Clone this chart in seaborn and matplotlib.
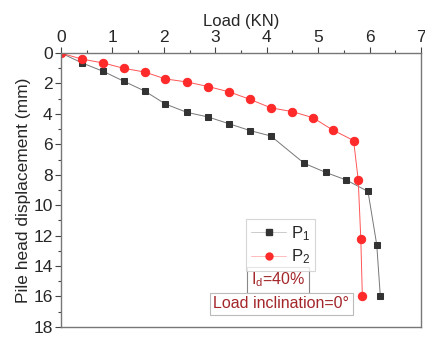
import matplotlib
matplotlib.use("Agg")
import matplotlib.pyplot as plt
import seaborn as sns
import numpy as np
from matplotlib.lines import Line2D

# Data
load_p1 = [0, 0.41, 0.82, 1.22, 1.63, 2.03, 2.45, 2.86, 3.27, 3.68, 4.08, 4.73, 5.15, 5.55, 5.97, 6.14, 6.21]
disp_p1 = [0, 0.65, 1.2, 1.85, 2.5, 3.35, 3.9, 4.2, 4.65, 5.1, 5.45, 7.25, 7.85, 8.35, 9.1, 12.6, 16.0]
load_p2 = [0, 0.41, 0.82, 1.22, 1.63, 2.03, 2.45, 2.86, 3.27, 3.68, 4.08, 4.5, 4.9, 5.28, 5.69, 5.78, 5.83, 5.86]
disp_p2 = [0, 0.4, 0.65, 1.0, 1.25, 1.7, 1.9, 2.2, 2.55, 3.05, 3.6, 3.85, 4.25, 5.05, 5.75, 8.35, 12.2, 15.95]
x_ticks = [0, 1, 2, 3, 4, 5, 6, 7]
y_ticks = [0, 2, 4, 6, 8, 10, 12, 14, 16, 18]

sns.set_style("ticks")
plt.rcParams['font.family'] = ['Liberation Sans', 'DejaVu Sans']
plt.rcParams['mathtext.default'] = 'regular'

fig = plt.figure(figsize=(4.25, 3.38), dpi=100)
ax = fig.add_axes([0.1435, 0.033, 0.847, 0.81])

sns.lineplot(x=load_p1, y=disp_p1, sort=False, estimator=None, ax=ax,
             color='#777777', linewidth=0.7, marker='s', markersize=5,
             markerfacecolor='#333333', markeredgecolor='#333333')
sns.lineplot(x=load_p2, y=disp_p2, sort=False, estimator=None, ax=ax,
             color='#ff5555', linewidth=0.7, marker='o', markersize=6,
             markerfacecolor='#ff2a2a', markeredgecolor='#ff2a2a')

ax.set_xlim(0, 7)
ax.set_ylim(18, 0)
ax.set_xticks(x_ticks)
ax.set_yticks(y_ticks)
ax.set_xticks(np.arange(0.5, 7, 1), minor=True)
ax.set_yticks(np.arange(1, 18, 2), minor=True)
ax.xaxis.tick_top()
ax.xaxis.set_label_position('top')
ax.set_xlabel('Load (KN)', fontsize=12, labelpad=3)
ax.set_ylabel('Pile head displacement (mm)', fontsize=12.5, labelpad=2)
ax.tick_params(axis='both', which='major', labelsize=12.5, length=4, width=0.8, color='#444444', pad=2)
ax.tick_params(axis='both', which='minor', length=2, width=0.8, color='#444444')
for s in ax.spines.values():
    s.set_visible(True)
    s.set_color('#777777')
    s.set_linewidth(1.0)

handles = [
    Line2D([], [], color='#cccccc', linewidth=0.7, marker='s', markersize=4,
           markerfacecolor='#333333', markeredgecolor='#333333'),
    Line2D([], [], color='#ffbbbb', linewidth=0.7, marker='o', markersize=5,
           markerfacecolor='#ff2a2a', markeredgecolor='#ff2a2a'),
]
leg = ax.legend(handles, ['P$_1$', 'P$_2$'], loc='upper left',
                bbox_to_anchor=(0.514, 0.394), fontsize=12, frameon=True,
                fancybox=False, edgecolor='#cccccc', handlelength=2.1,
                borderpad=0.3, labelspacing=0.3, handletextpad=0.3, borderaxespad=0)
leg.get_frame().set_linewidth(0.8)

ax.text(0.603, 0.172, 'I$_d$=40%', transform=ax.transAxes, ha='center', va='center',
        fontsize=11.5, color='#a3262a',
        bbox=dict(boxstyle='square,pad=0.22', facecolor='white', edgecolor='#888888', linewidth=0.8))
ax.text(0.6125, 0.084, 'Load inclination=0°', transform=ax.transAxes, ha='center', va='center',
        fontsize=11.5, color='#a3262a',
        bbox=dict(boxstyle='square,pad=0.22', facecolor='white', edgecolor='#bbbbbb', linewidth=0.8))

fig.savefig('out.png', dpi=100)
